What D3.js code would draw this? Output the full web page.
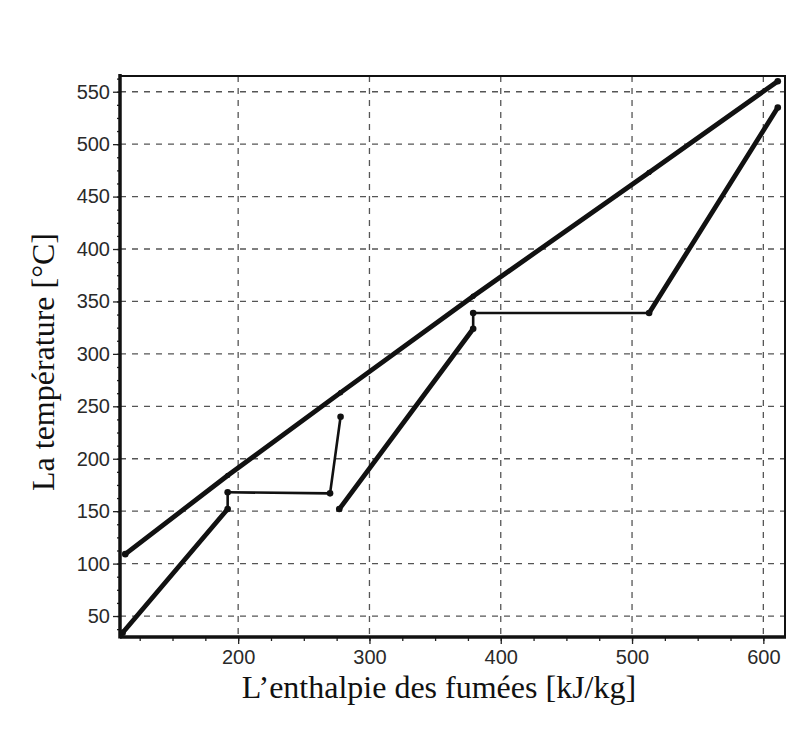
<!DOCTYPE html>
<html><head><meta charset="utf-8">
<script src="https://cdn.jsdelivr.net/npm/d3@7"></script>
<style>body{margin:0;background:#fff;} svg{display:block;}</style>
</head><body>
<svg id="c" width="796" height="732"></svg>
<script>
// Data
const xTicks = [200, 300, 400, 500, 600];
const yTicks = [50, 100, 150, 200, 250, 300, 350, 400, 450, 500, 550];
const gasX = [114, 192, 278, 379, 513, 611];
const gasT = [109, 184, 263, 355, 473, 560];
const eau1X = [112, 192, 192, 270, 278];
const eau1T = [34, 152, 168, 167, 240];
const eau2X = [277, 379, 379, 513, 611];
const eau2T = [152, 324, 339, 339, 535];
const xLabel = "L’enthalpie des fumées [kJ/kg]";
const yLabel = "La température [°C]";

const svg = d3.select("#c");
const L = 120, R = 785, T = 76, B = 637;
const x = d3.scaleLinear().domain([110, 616.5]).range([L, R]);
const y = d3.scaleLinear().domain([30, 565]).range([B, T]);

// grid
const g = svg.append("g");
g.selectAll(".gx").data(xTicks).join("line")
  .attr("x1", d => x(d)).attr("x2", d => x(d)).attr("y1", T).attr("y2", B)
  .attr("stroke", "#555").attr("stroke-width", 1.3).attr("stroke-dasharray", "6,6");
g.selectAll(".gy").data(yTicks).join("line")
  .attr("y1", d => y(d)).attr("y2", d => y(d)).attr("x1", L).attr("x2", R)
  .attr("stroke", "#555").attr("stroke-width", 1.3).attr("stroke-dasharray", "6,6");

// axes
const xMinor = d3.range(125, 616, 25);
const yMinor = d3.range(37.5, 565, 12.5);
const xa = svg.append("g").attr("transform", `translate(0,${B})`)
  .call(d3.axisBottom(x).tickValues(xMinor).tickSize(4).tickFormat(""));
xa.select(".domain").remove();
const xb = svg.append("g").attr("transform", `translate(0,${B})`)
  .call(d3.axisBottom(x).tickValues(xTicks).tickSize(7).tickPadding(6).tickFormat(d3.format("d")));
xb.select(".domain").remove();
const ya = svg.append("g").attr("transform", `translate(${L},0)`)
  .call(d3.axisLeft(y).tickValues(yMinor).tickSize(3).tickFormat(""));
ya.select(".domain").remove();
const yb = svg.append("g").attr("transform", `translate(${L},0)`)
  .call(d3.axisLeft(y).tickValues(yTicks).tickSize(7).tickPadding(3).tickFormat(d3.format("d")));
yb.select(".domain").remove();
svg.selectAll(".tick line").attr("stroke", "#222").attr("stroke-width", 1.3);
svg.selectAll(".tick text").attr("font-family", "Liberation Sans, Arial, sans-serif")
  .attr("font-size", 20).attr("fill", "#2a2a2a");

// frame
svg.append("rect").attr("x", L).attr("y", T).attr("width", R - L).attr("height", B - T)
  .attr("fill", "none").attr("stroke", "#111").attr("stroke-width", 2);
svg.append("line").attr("x1", L).attr("x2", L).attr("y1", T - 2).attr("y2", B + 1.5)
  .attr("stroke", "#111").attr("stroke-width", 3.5);
svg.append("line").attr("x1", L).attr("x2", R + 1).attr("y1", B).attr("y2", B)
  .attr("stroke", "#111").attr("stroke-width", 3.5);

// series
function drawSeries(xs, ts, markAll) {
  const pts = xs.map((v, i) => [v, ts[i]]);
  for (let i = 0; i < pts.length - 1; i++) {
    const a = pts[i], b = pts[i + 1];
    const flat = Math.abs(a[1] - b[1]) < 2 || Math.abs(a[0] - b[0]) < 10;
    svg.append("line")
      .attr("x1", x(a[0])).attr("y1", y(a[1])).attr("x2", x(b[0])).attr("y2", y(b[1]))
      .attr("stroke", "#111").attr("stroke-width", flat ? 2.6 : 4.8).attr("stroke-linecap", "round");
  }
  svg.append("g").selectAll("circle").data(pts).join("circle")
    .attr("cx", d => x(d[0])).attr("cy", d => y(d[1]))
    .attr("r", (d, i) => (markAll || i === 0 || i === pts.length - 1) ? 3.3 : 2.6)
    .attr("fill", "#111");
}
drawSeries(gasX, gasT, false);
drawSeries(eau1X, eau1T, true);
drawSeries(eau2X, eau2T, true);

// labels
svg.append("text").attr("x", 439).attr("y", 698).attr("text-anchor", "middle")
  .attr("font-family", "Liberation Serif, Times New Roman, serif").attr("font-size", 32)
  .attr("fill", "#111").text(xLabel);
svg.append("text").attr("transform", `translate(54,362) rotate(-90)`)
  .attr("text-anchor", "middle")
  .attr("font-family", "Liberation Serif, Times New Roman, serif").attr("font-size", 32)
  .attr("fill", "#111").text(yLabel);
</script>
</body></html>
